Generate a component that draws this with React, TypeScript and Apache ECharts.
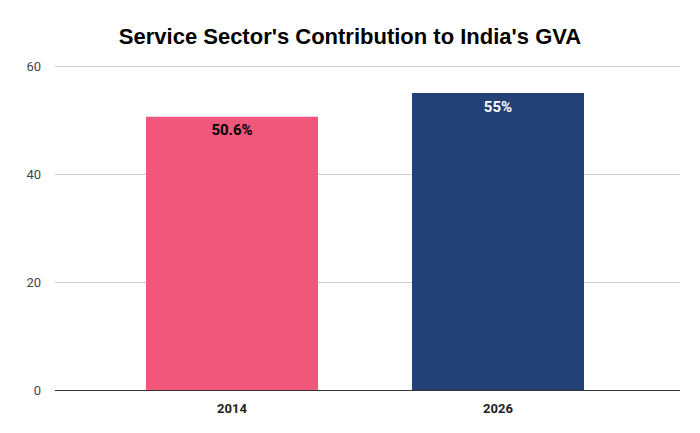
import React, { useEffect, useRef } from 'react';
import * as echarts from 'echarts';

const years = ['2014', '2026'];
const shares = [50.6, 55];
const labels = ['50.6%', '55%'];
const barColors = ['#f0577a', '#234077'];
const labelColors = ['#000000', '#ffffff'];

const App: React.FC = () => {
  const chartRef = useRef<HTMLDivElement>(null);

  useEffect(() => {
    if (!chartRef.current) return;
    const chart = echarts.init(chartRef.current, null, { renderer: 'svg' });
    chart.setOption({
      animation: false,
      textStyle: { fontFamily: 'Roboto, Arial, sans-serif' },
      title: {
        text: "Service Sector's Contribution to India's GVA",
        left: 'center',
        top: 12,
        textStyle: { fontSize: 22, fontWeight: 'bold', color: '#000', fontFamily: '"Liberation Sans", Arial, sans-serif' },
      },
      grid: [
        { left: 47, right: 12, top: 58, bottom: 35 },
        { left: 91, right: 61, top: 58, bottom: 35 },
      ],
      xAxis: [
        { type: 'category', gridIndex: 0, data: [''], show: false },
        {
          type: 'category',
          gridIndex: 1,
          data: years,
          axisLine: { show: false },
          axisTick: { show: false },
          axisLabel: { color: '#222', fontWeight: 'bold', fontSize: 13, margin: 12 },
        },
      ],
      yAxis: [
        {
          type: 'value',
          gridIndex: 0,
          min: 0,
          max: 60,
          interval: 20,
          axisLabel: { color: '#444', fontSize: 13, margin: 14 },
          splitLine: { lineStyle: { color: '#cccccc' } },
          axisLine: { show: false },
        },
        { type: 'value', gridIndex: 1, min: 0, max: 60, show: false },
      ],
      series: [
        {
          type: 'line',
          xAxisIndex: 0,
          yAxisIndex: 0,
          data: [],
          markLine: {
            silent: true,
            symbol: 'none',
            label: { show: false },
            lineStyle: { color: '#333', type: 'solid', width: 1 },
            data: [{ yAxis: 0 }],
          },
        },
        {
          type: 'bar',
          xAxisIndex: 1,
          yAxisIndex: 1,
          barWidth: 172,
          data: shares.map((v, i) => ({
            value: v,
            itemStyle: { color: barColors[i] },
            label: {
              show: true,
              position: 'insideTop',
              distance: 6,
              formatter: labels[i],
              color: labelColors[i],
              fontWeight: 'bold',
              fontSize: 15,
            },
          })),
        },
      ],
    });
    return () => chart.dispose();
  }, []);

  return <div ref={chartRef} style={{ width: 684, height: 417 }} />;
};

export default App;
